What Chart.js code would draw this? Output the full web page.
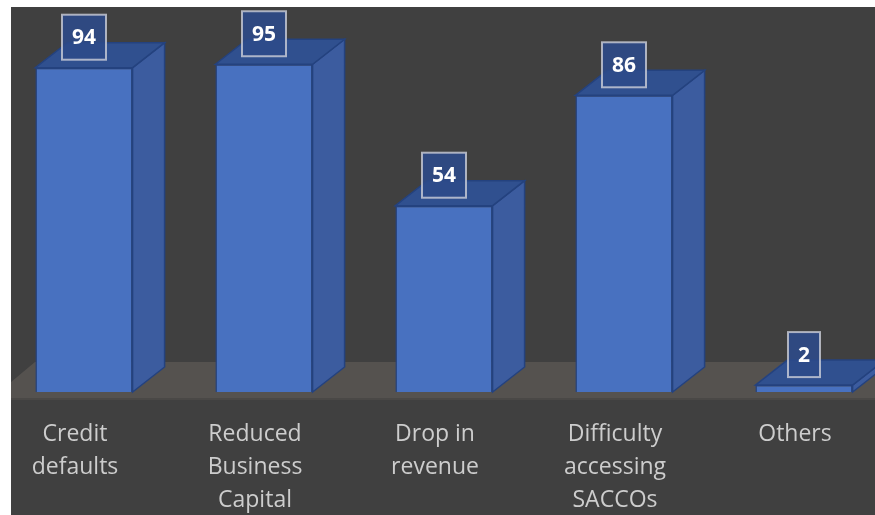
<!DOCTYPE html>
<html>
<head>
<meta charset="utf-8">
<script src="https://cdn.jsdelivr.net/npm/chart.js@4.4.0/dist/chart.umd.min.js"></script>
<style>
  html, body { margin: 0; padding: 0; background: #fff; overflow: hidden; }
  #panel {
    position: absolute; left: 11px; top: 7px; width: 864px; height: 508px;
    background: #404040; overflow: hidden;
  }
  #myChart { position: absolute; left: -17px; top: -7px; }
</style>
</head>
<body>
<div id="panel"><canvas id="myChart" width="900" height="515"></canvas></div>
<script>
// categories and counts
var categories = [
  ['Credit', 'defaults'],
  ['Reduced', 'Business', 'Capital'],
  ['Drop in', 'revenue'],
  ['Difficulty', 'accessing', 'SACCOs'],
  ['Others']
];
var counts = [94, 95, 54, 86, 2];

// depth of the 3D boxes
var depthX = 32;
var depthY = -25;

function poly(ctx, pts, fill, stroke) {
  ctx.beginPath();
  ctx.moveTo(pts[0][0], pts[0][1]);
  for (var i = 1; i < pts.length; i++) {
    ctx.lineTo(pts[i][0], pts[i][1]);
  }
  ctx.closePath();
  ctx.fillStyle = fill;
  ctx.fill();
  if (stroke) {
    ctx.strokeStyle = stroke;
    ctx.lineWidth = 1.5;
    ctx.stroke();
  }
}

// floor under the bars
var floorPlugin = {
  id: 'floor',
  beforeDatasetsDraw: function(chart) {
    var ctx = chart.ctx;
    var base = chart.scales.y.getPixelForValue(0);
    var front = base + 6;
    var back = base - 30;
    var left = chart.chartArea.left - 2;
    var right = chart.width + 10;
    ctx.save();
    poly(ctx, [[left, front], [left + 43, back], [right, back], [right, front]], '#55524f');
    ctx.fillStyle = '#4a4846';
    ctx.fillRect(left, front, right - left, 2);
    ctx.restore();
  }
};

// side and top faces plus the value boxes
var boxPlugin = {
  id: 'box3d',
  afterDatasetsDraw: function(chart) {
    var ctx = chart.ctx;
    var meta = chart.getDatasetMeta(0);
    ctx.save();
    meta.data.forEach(function(bar, i) {
      var p = bar.getProps(['x', 'y', 'base', 'width'], true);
      var l = p.x - p.width / 2;
      var r = p.x + p.width / 2;
      poly(ctx, [[r, p.y], [r + depthX, p.y + depthY], [r + depthX, p.base + depthY], [r, p.base]], '#3c5c9f', '#24427f');
      poly(ctx, [[l, p.y], [l + depthX, p.y + depthY], [r + depthX, p.y + depthY], [r, p.y]], '#30508f', '#24427f');
    });

    ctx.font = 'bold 21px "Open Sans"';
    ctx.textAlign = 'center';
    ctx.textBaseline = 'middle';
    meta.data.forEach(function(bar, i) {
      var txt = String(counts[i]);
      var w = ctx.measureText(txt).width + 20;
      var h = 45;
      var bx = bar.x - w / 2;
      var by = bar.y - 8 - h;
      ctx.fillStyle = 'rgba(44, 74, 138, 0.88)';
      ctx.fillRect(bx, by, w, h);
      ctx.strokeStyle = 'rgba(205, 208, 218, 0.8)';
      ctx.lineWidth = 2;
      ctx.strokeRect(bx, by, w, h);
      ctx.fillStyle = '#ffffff';
      ctx.fillText(txt, bar.x, by + h / 2 + 1);
    });
    ctx.restore();
  }
};

var myBarChart = new Chart(document.getElementById('myChart').getContext('2d'), {
  type: 'bar',
  data: {
    labels: categories,
    datasets: [{
      data: counts,
      backgroundColor: '#4871c0',
      borderColor: '#24427f',
      borderWidth: 1.5,
      barPercentage: 0.54,
      categoryPercentage: 1.0
    }]
  },
  options: {
    responsive: false,
    devicePixelRatio: 1,
    animation: false,
    layout: { padding: { top: 47, left: 0, right: 0, bottom: 0 } },
    plugins: {
      legend: { display: false },
      tooltip: { enabled: false }
    },
    scales: {
      y: {
        display: false,
        min: 0,
        max: 100
      },
      x: {
        grid: { display: false, drawTicks: false },
        border: { display: false },
        ticks: {
          color: '#cdcdcd',
          font: { family: '"Open Sans"', size: 23, lineHeight: 1.43 },
          padding: 26,
          labelOffset: -9,
          maxRotation: 0,
          autoSkip: false
        },
        afterFit: function(scale) {
          scale.height = 123;
        }
      }
    }
  },
  plugins: [floorPlugin, boxPlugin]
});
</script>
</body>
</html>
